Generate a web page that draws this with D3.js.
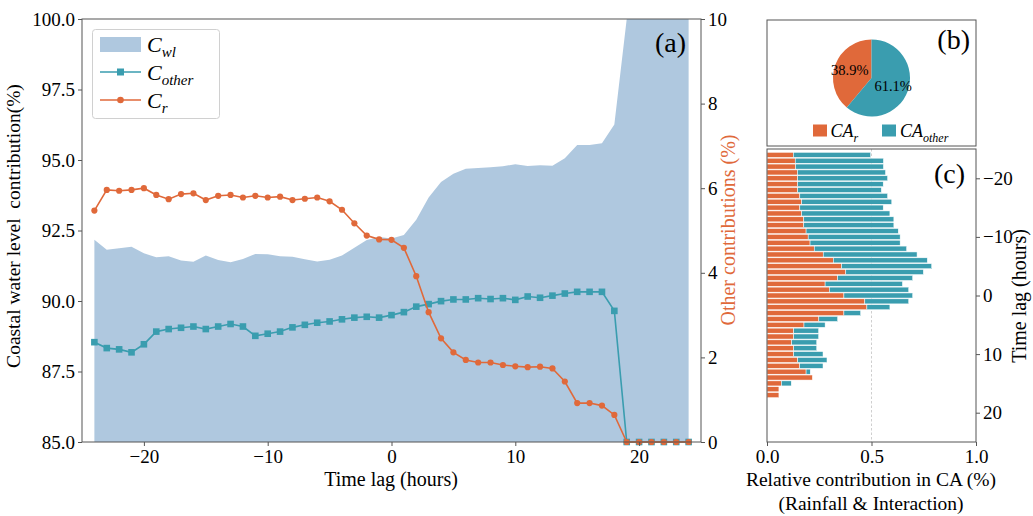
<!DOCTYPE html>
<html><head><meta charset="utf-8">
<script src="https://cdn.jsdelivr.net/npm/d3@7"></script>
<style>
body{margin:0;background:#fff}
text{font-family:"Liberation Serif","Times New Roman",serif;fill:#000}
</style>
</head><body>
<svg id="chart" width="1033" height="516"></svg>
<script>
// ---------- data: panel (a) ----------
const lagsA = [-24,-23,-22,-21,-20,-19,-18,-17,-16,-15,-14,-13,-12,-11,-10,-9,-8,-7,-6,-5,-4,-3,-2,-1,0,1,2,3,4,5,6,7,8,9,10,11,12,13,14,15,16,17,18,19,20,21,22,23,24];
const cWl = [92.17,91.82,91.87,91.92,91.69,91.55,91.59,91.44,91.39,91.61,91.45,91.37,91.49,91.67,91.66,91.59,91.57,91.48,91.40,91.46,91.61,91.89,92.16,92.27,92.22,92.34,92.88,93.67,94.22,94.51,94.69,94.72,94.74,94.78,94.85,94.79,94.81,94.80,95.06,95.53,95.53,95.59,96.26,100,100,100,100,100,100];
const cOther = [2.36,2.22,2.19,2.12,2.31,2.61,2.67,2.70,2.73,2.67,2.73,2.79,2.73,2.51,2.56,2.61,2.71,2.77,2.82,2.85,2.90,2.94,2.96,2.94,3.00,3.07,3.20,3.26,3.33,3.37,3.37,3.40,3.38,3.40,3.36,3.44,3.41,3.46,3.51,3.55,3.55,3.55,3.10,0,0,0,0,0,0];
const cR = [5.47,5.96,5.94,5.96,6.00,5.84,5.74,5.86,5.88,5.72,5.82,5.84,5.78,5.82,5.78,5.80,5.72,5.75,5.78,5.69,5.49,5.17,4.88,4.79,4.78,4.59,3.92,3.07,2.45,2.12,1.94,1.88,1.88,1.82,1.79,1.77,1.78,1.74,1.43,0.92,0.92,0.86,0.64,0,0,0,0,0,0];
const leftTicks = [85,87.5,90,92.5,95,97.5,100];
const rightTicks = [0,2,4,6,8,10];
const lagTicks = [-20,-10,0,10,20];

// ---------- data: panel (b) ----------
const pieNames = ["CA_r","CA_other"];
const pieValues = [38.9, 61.1];

// ---------- data: panel (c) ----------
const lagsC = [-24,-23,-22,-21,-20,-19,-18,-17,-16,-15,-14,-13,-12,-11,-10,-9,-8,-7,-6,-5,-4,-3,-2,-1,0,1,2,3,4,5,6,7,8,9,10,11,12,13,14,15,16,17];
const caR = [0.126,0.135,0.137,0.146,0.147,0.147,0.147,0.157,0.166,0.157,0.166,0.176,0.176,0.187,0.197,0.206,0.226,0.269,0.317,0.357,0.377,0.338,0.278,0.298,0.368,0.468,0.478,0.368,0.248,0.177,0.128,0.128,0.118,0.128,0.128,0.147,0.156,0.187,0.217,0.069,0.057,0.057];
const caOther = [0.370,0.422,0.420,0.421,0.430,0.409,0.400,0.420,0.431,0.399,0.422,0.431,0.431,0.441,0.440,0.431,0.442,0.449,0.450,0.431,0.371,0.359,0.370,0.380,0.329,0.210,0.110,0.080,0.090,0.101,0.119,0.119,0.120,0.110,0.140,0.140,0.112,0.020,0,0.047,0,0];
const caTicks = [0,0.5,1.0];

// ---------- styles ----------
const COL_AREA = "#AFC8DF", COL_TEAL = "#3A9DAF", COL_ORANGE = "#E0693A", COL_SPINE = "#555";
const SERIF = "'Liberation Serif','Times New Roman',serif";

const svg = d3.select("#chart");

function styleAxis(g, fs){
  g.attr("font-family", SERIF).attr("font-size", fs);
  g.select(".domain").remove();
  g.selectAll(".tick line").attr("stroke", COL_SPINE);
  g.selectAll(".tick text").attr("font-size", fs).attr("fill","#000").style("font-family", SERIF);
}

// ================= panel (a) =================
const A = {l:82, r:701, t:19, b:442};
const x = d3.scaleLinear().domain([-25,25]).range([A.l, A.r]);
const yL = d3.scaleLinear().domain([85,100]).range([A.b, A.t]);
const yR = d3.scaleLinear().domain([0,10]).range([A.b, A.t]);

svg.append("clipPath").attr("id","clipA").append("rect")
  .attr("x",A.l).attr("y",A.t).attr("width",A.r-A.l).attr("height",A.b-A.t);

const gA = svg.append("g");
gA.append("path").attr("clip-path","url(#clipA)")
  .datum(lagsA.map((h,i)=>[h,cWl[i]]))
  .attr("fill",COL_AREA)
  .attr("d", d3.area().x(d=>x(d[0])).y0(yL(85)).y1(d=>yL(d[1])));

const lineR = d3.line().x(d=>x(d[0])).y(d=>yR(d[1]));
const othData = lagsA.map((h,i)=>[h,cOther[i]]);
const rData = lagsA.map((h,i)=>[h,cR[i]]);

gA.append("path").datum(othData).attr("fill","none").attr("stroke",COL_TEAL).attr("stroke-width",1.6).attr("d",lineR);
gA.selectAll("rect.sq").data(othData).join("rect").attr("class","sq")
  .attr("x",d=>x(d[0])-3.3).attr("y",d=>yR(d[1])-3.3).attr("width",6.6).attr("height",6.6).attr("fill",COL_TEAL);

gA.append("path").datum(rData).attr("fill","none").attr("stroke",COL_ORANGE).attr("stroke-width",1.6).attr("d",lineR);
gA.selectAll("circle.ci").data(rData).join("circle").attr("class","ci")
  .attr("cx",d=>x(d[0])).attr("cy",d=>yR(d[1])).attr("r",3.1).attr("fill",COL_ORANGE);

// frame
gA.append("rect").attr("x",A.l).attr("y",A.t).attr("width",A.r-A.l).attr("height",A.b-A.t)
  .attr("fill","none").attr("stroke",COL_SPINE).attr("stroke-width",1);

// axes
svg.append("g").attr("transform",`translate(${A.l},0)`)
  .call(d3.axisLeft(yL).tickValues(leftTicks).tickFormat(d3.format(".1f")).tickSize(4).tickPadding(3))
  .call(g=>styleAxis(g,19));
svg.append("g").attr("transform",`translate(${A.r},0)`)
  .call(d3.axisRight(yR).tickValues(rightTicks).tickFormat(d3.format("d")).tickSize(4).tickPadding(3))
  .call(g=>styleAxis(g,19));
svg.append("g").attr("transform",`translate(0,${A.b})`)
  .call(d3.axisBottom(x).tickValues(lagTicks).tickFormat(d3.format("d")).tickSize(4).tickPadding(4))
  .call(g=>styleAxis(g,19));

// axis titles
svg.append("text").attr("transform","translate(20,226) rotate(-90)").attr("text-anchor","middle")
  .attr("font-size",19.5).text("Coastal water level\u00a0\u00a0contribution(%)");
svg.append("text").attr("transform","translate(735,230) rotate(-90)").attr("text-anchor","middle")
  .attr("font-size",20).style("fill",COL_ORANGE).text("Other contributions (%)");
svg.append("text").attr("x",391).attr("y",486).attr("text-anchor","middle")
  .attr("font-size",20).text("Time lag (hours)");
svg.append("text").attr("x",686).attr("y",52).attr("text-anchor","end").attr("font-size",28).text("(a)");

// legend (a)
const lg = svg.append("g");
lg.append("rect").attr("x",92.5).attr("y",29.5).attr("width",127).attr("height",89).attr("rx",3)
  .attr("fill","#fff").attr("fill-opacity",0.85).attr("stroke","#d0d0d0");
lg.append("rect").attr("x",100).attr("y",37).attr("width",41).attr("height",15).attr("fill",COL_AREA);
lg.append("line").attr("x1",100).attr("x2",141).attr("y1",72).attr("y2",72).attr("stroke",COL_TEAL).attr("stroke-width",1.6);
lg.append("rect").attr("x",117).attr("y",68.5).attr("width",7).attr("height",7).attr("fill",COL_TEAL);
lg.append("line").attr("x1",100).attr("x2",141).attr("y1",100).attr("y2",100).attr("stroke",COL_ORANGE).attr("stroke-width",1.6);
lg.append("circle").attr("cx",120.5).attr("cy",100).attr("r",3.3).attr("fill",COL_ORANGE);
function subLabel(g, xx, yy, main, sub, fs, sfs, dy){
  const t = g.append("text").attr("x",xx).attr("y",yy).attr("font-size",fs).attr("font-style","italic");
  t.append("tspan").text(main);
  t.append("tspan").attr("font-size",sfs).attr("dy",dy).text(sub);
  return t;
}
subLabel(lg,147,52,"C","wl",22,15,5);
subLabel(lg,147,79.5,"C","other",22,15,5);
subLabel(lg,147,107.5,"C","r",22,15,5);

// ================= panel (b) =================
svg.append("rect").attr("x",767).attr("y",20).attr("width",209).attr("height",126)
  .attr("fill","none").attr("stroke",COL_SPINE);
const pieG = svg.append("g").attr("transform","translate(871.5,78)");
const R = 38.5;
const pie = d3.pie().sort(null).startAngle(0).endAngle(-2*Math.PI);
const arcs = pie(pieValues);
const pieCols = [COL_ORANGE, COL_TEAL];
pieG.selectAll("path").data(arcs).join("path")
  .attr("d", d3.arc().innerRadius(0).outerRadius(R))
  .attr("fill",(d,i)=>pieCols[i]);
const labelArc = d3.arc().innerRadius(R*0.6).outerRadius(R*0.6);
pieG.selectAll("text").data(arcs).join("text")
  .attr("transform",d=>`translate(${labelArc.centroid(d)})`)
  .attr("text-anchor","middle").attr("dy","0.35em").attr("font-size",14.5)
  .text(d=>d.value.toFixed(1)+"%");
svg.append("text").attr("x",970).attr("y",49).attr("text-anchor","end").attr("font-size",28).text("(b)");
// pie legend
svg.append("rect").attr("x",813).attr("y",124.5).attr("width",14).attr("height",12).attr("fill",COL_ORANGE);
svg.append("rect").attr("x",882).attr("y",124.5).attr("width",14).attr("height",12).attr("fill",COL_TEAL);
subLabel(svg,830.5,137,"CA","r",18,12,4.5);
subLabel(svg,900,137,"CA","other",18,12,4.5);

// ================= panel (c) =================
const C = {l:767, r:976, t:149, b:442};
const xc = d3.scaleLinear().domain([0,1]).range([C.l, C.r]);
const yc = d3.scaleLinear().domain([-25,25]).range([C.t, C.b]);
const bh = (yc(1)-yc(0))*0.86;
svg.append("line").attr("x1",xc(0.5)).attr("x2",xc(0.5)).attr("y1",C.t).attr("y2",C.b)
  .attr("stroke","#cfcfcf").attr("stroke-width",1).attr("stroke-dasharray","2.5,2");
const gC = svg.append("g");
gC.selectAll("rect.br").data(lagsC).join("rect").attr("class","br")
  .attr("x",xc(0)).attr("y",d=>yc(d)-bh/2)
  .attr("width",(d,i)=>xc(caR[i])-xc(0)).attr("height",bh)
  .attr("fill",COL_ORANGE).attr("stroke","#fff").attr("stroke-width",0.5);
gC.selectAll("rect.bo").data(lagsC).join("rect").attr("class","bo")
  .attr("x",(d,i)=>xc(caR[i])).attr("y",d=>yc(d)-bh/2)
  .attr("width",(d,i)=>xc(caOther[i])-xc(0)).attr("height",bh)
  .attr("fill",COL_TEAL).attr("stroke","#fff").attr("stroke-width",0.5)
  .attr("display",(d,i)=>caOther[i]>0?null:"none");
svg.append("rect").attr("x",C.l).attr("y",C.t).attr("width",C.r-C.l).attr("height",C.b-C.t)
  .attr("fill","none").attr("stroke",COL_SPINE);
svg.append("g").attr("transform",`translate(0,${C.b})`)
  .call(d3.axisBottom(xc).tickValues(caTicks).tickFormat(d3.format(".1f")).tickSize(4).tickPadding(4))
  .call(g=>styleAxis(g,19));
svg.append("g").attr("transform",`translate(${C.r},0)`)
  .call(d3.axisRight(yc).tickValues(lagTicks).tickFormat(d3.format("d")).tickSize(4).tickPadding(3))
  .call(g=>styleAxis(g,19));
svg.append("text").attr("x",965).attr("y",183).attr("text-anchor","end").attr("font-size",28).text("(c)");
svg.append("text").attr("transform","translate(1026,296) rotate(-90)").attr("text-anchor","middle")
  .attr("font-size",20).text("Time lag (hours)");
svg.append("text").attr("x",871).attr("y",486).attr("text-anchor","middle").attr("font-size",19.5)
  .text("Relative contribution in CA (%)");
svg.append("text").attr("x",871).attr("y",510).attr("text-anchor","middle").attr("font-size",19.5)
  .text("(Rainfall & Interaction)");
</script>
</body></html>
